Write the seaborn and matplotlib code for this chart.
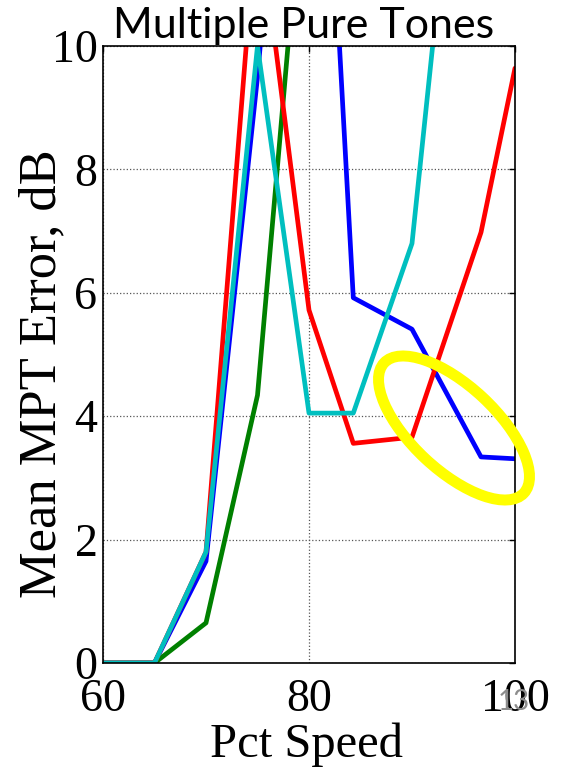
import matplotlib
matplotlib.use("Agg")
import matplotlib.pyplot as plt
from matplotlib.patches import Ellipse
import numpy as np
import pandas as pd
import seaborn as sns

# Datos
pct_speed = [60, 65, 70, 75, 80, 84.3, 90, 96.7, 100]
err_blue = [0, 0, 1.65, 9.5, 19.0, 5.92, 5.41, 3.34, 3.31]
err_green = [0, 0, 0.65, 4.34, 13.9, np.nan, np.nan, np.nan, np.nan]
err_red = [0, 0, 1.8, 12.3, 5.72, 3.56, 3.66, 6.98, 9.64]
err_cyan = [0, 0, 1.8, 10.0, 4.05, 4.05, 6.8, 17.5, 20.0]

series_names = ["b", "g", "r", "c"]
series_colors = {"b": "#0000ff", "g": "#008000", "r": "#ff0000", "c": "#00bfbf"}

x_ticks = [60, 80, 100]
y_ticks = [0, 2, 4, 6, 8, 10]

df = pd.concat([
    pd.DataFrame({"speed": pct_speed, "err": vals, "serie": name})
    for name, vals in zip(series_names, [err_blue, err_green, err_red, err_cyan])
], ignore_index=True)

sns.set_style("white")
plt.rcParams["font.family"] = ["Liberation Serif", "DejaVu Serif"]
plt.rcParams["text.color"] = "black"

fig = plt.figure(figsize=(5.65, 7.67), dpi=100)
ax = fig.add_axes([103 / 565, 1 - 663 / 767, 412 / 565, 617 / 767])

sns.lineplot(ax=ax, data=df, x="speed", y="err", hue="serie", hue_order=series_names,
             palette=series_colors, linewidth=3.4, errorbar=None, legend=False, sort=False)

ax.set_xlim(60, 100)
ax.set_ylim(0, 10)
ax.set_xticks(x_ticks)
ax.set_yticks(y_ticks)
ax.set_xlabel("")
ax.set_ylabel("")
ax.grid(True, linestyle=":", color="#555555", linewidth=0.9)
ax.tick_params(direction="in", top=True, right=True, length=4, width=1, labelsize=33, colors="black")
ax.tick_params(axis="x", pad=11)
ax.tick_params(axis="y", pad=4)
for s in ax.spines.values():
    s.set_color("black")
    s.set_linewidth(1.2)

# Textos
fig.text(304 / 565, 1 - 38 / 767, "Multiple Pure Tones", ha="center", va="baseline",
         fontsize=31, family=["Lato", "DejaVu Sans"])
fig.text(307 / 565, 1 - 757 / 767, "Pct Speed", ha="center", va="baseline", fontsize=35)
fig.text(42 / 565, 1 - 374 / 767, "Mean MPT Error, dB", ha="center", va="center",
         rotation=90, fontsize=37.8)
fig.text(514 / 565, 1 - 702 / 767, "13", ha="center", va="center", fontsize=20,
         color="#8c8c8c", family=["Lato", "DejaVu Sans"])

# Elipse amarilla
ell = Ellipse((4.54, 3.39), 1.91, 0.84, angle=-43, transform=fig.dpi_scale_trans,
              fill=False, edgecolor="#ffff00", linewidth=7.9, clip_on=False)
fig.add_artist(ell)

fig.savefig("out.png", dpi=100)
